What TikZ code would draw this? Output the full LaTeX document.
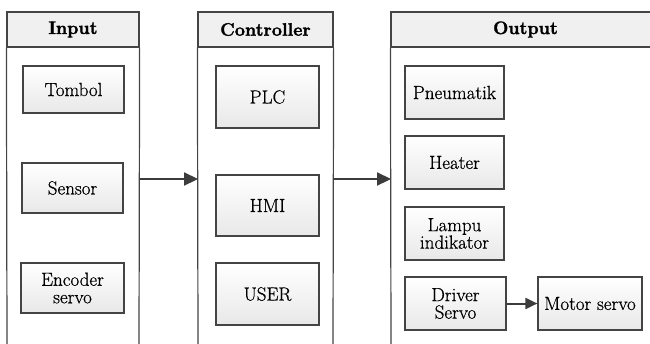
\documentclass[tikz,border=0pt]{standalone}
\usepackage{fontspec}
\newfontfamily\bodyfont{Latin Modern Roman}[FakeBold=0.6]
\newfontfamily\hdrfont{Latin Modern Roman}[BoldFeatures={FakeBold=1.6}]
\usetikzlibrary{arrows.meta,shadows}
\definecolor{lineC}{HTML}{444444}
\definecolor{arrC}{HTML}{3C3C3C}
\definecolor{hdrC}{HTML}{F0F0F0}
\begin{document}
\begin{tikzpicture}[x=1pt,y=-1pt,
  itembox/.style={draw=lineC, line width=1.2pt, top color=white, bottom color=black!9,
    minimum width=#1, inner sep=1pt, align=center,
    font=\bodyfont\fontsize{19}{17.5}\selectfont,
    drop shadow={opacity=0.18, shadow xshift=1.2pt, shadow yshift=-1.2pt}},
  itembox/.default=101pt,
  hdr/.style={draw=lineC, line width=1.2pt, fill=hdrC, minimum height=35pt, inner sep=0pt,
    font=\hdrfont\bfseries\fontsize{18}{18}\selectfont},
  frameline/.style={draw=lineC, line width=1.2pt},
  flow/.style={draw=arrC, line width=2.2pt, -{Triangle[length=14pt,width=13pt]}},
  flowsmall/.style={draw=arrC, line width=2pt, -{Triangle[length=12pt,width=11pt]}}
]
\useasboundingbox (0,0) rectangle (650,343);
\clip (0,0) rectangle (650,343);
% frames
\node[hdr, minimum width=132pt] (inH) at (73,29.5) {Input};
\node[hdr, minimum width=135pt] (ctH) at (265.5,29.5) {Controller};
\node[hdr, minimum width=269pt] (ouH) at (525.5,29.5) {Output};
\draw[frameline] (inH.south west) -- (7,345);
\draw[frameline] (inH.south east) -- (139,345);
\draw[frameline] (ctH.south west) -- (198,345);
\draw[frameline] (ctH.south east) -- (333,345);
\draw[frameline] (ouH.south west) -- (391,345);
% input items
\node[itembox, minimum height=47pt] (tombol) at (73.5,89.5) {Tombol};
\node[itembox, minimum height=50pt] (sensor) at (72.5,188) {Sensor};
\node[itembox=103pt, minimum height=50pt] (encoder) at (72.5,288) {Encoder\\servo};
% controller items
\node[itembox=103pt, minimum height=62pt] (plc) at (267.5,97) {PLC};
\node[itembox=103pt, minimum height=61pt] (hmi) at (267.5,205.5) {HMI};
\node[itembox=103pt, minimum height=62pt] (user) at (267.5,294) {USER};
% output items
\node[itembox=99pt, minimum height=53pt] (pneu) at (454.5,92.5) {Pneumatik};
\node[itembox=99pt, minimum height=53pt] (heater) at (454.5,162.5) {Heater};
\node[itembox=99pt, minimum height=53pt] (lampu) at (454.5,233.5) {Lampu\\indikator};
\node[itembox=101pt, minimum height=53pt] (driver) at (455.5,303.5) {Driver\\Servo};
\node[itembox=104pt, minimum height=53pt] (motor) at (590,303.5) {Motor servo};
% connectors
\coordinate (a1s) at (139,179);
\coordinate (a1e) at (198,179);
\coordinate (a2s) at (333,179);
\coordinate (a2e) at (391,179);
\draw[flow] (a1s) -- (a1e);
\draw[flow] (a2s) -- (a2e);
\draw[flowsmall] (driver) -- (motor);
\end{tikzpicture}
\end{document}
